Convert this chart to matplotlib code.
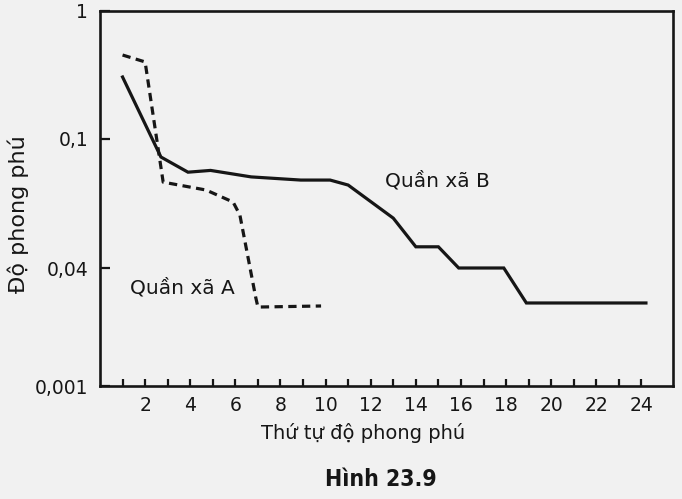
import numpy as np
import matplotlib
matplotlib.use("Agg")
import matplotlib.pyplot as plt
from matplotlib.ticker import FixedLocator, FixedFormatter, NullLocator

# ---- data ----
rank_b = [1.0, 2.7, 3.9, 4.9, 6.7, 8.9, 10.2, 11.0, 13.0, 14.0, 15.0, 15.9, 17.9, 18.9, 24.2]
abund_b = [0.305, 0.088, 0.079, 0.080, 0.0764, 0.0747, 0.0747, 0.0721, 0.057, 0.0465, 0.0465,
           0.040, 0.040, 0.0134, 0.0134]

rank_a = [1.0, 2.0, 2.8, 4.7, 5.9, 6.2, 6.9, 7.0, 9.8]
abund_a = [0.453, 0.40, 0.0736, 0.0696, 0.0639, 0.0583, 0.0161, 0.0118, 0.0122]

y_tick_values = [0.001, 0.04, 0.1, 1.0]
y_tick_labels = ["0,001", "0,04", "0,1", "1"]
x_major = list(range(2, 25, 2))
x_minor = list(range(1, 25, 2))
x_tick_labels = [str(v) for v in x_major]

# ---- non-uniform y scale (ticks roughly evenly spaced in the drawing) ----
_tick_log = np.log10(y_tick_values)
_tick_pos = np.array([0.0, 118.0, 247.0, 375.0])


def _fwd(v):
    v = np.clip(np.asarray(v, dtype=float), 1e-12, None)
    return np.interp(np.log10(v), _tick_log, _tick_pos)


def _inv(p):
    return 10 ** np.interp(np.asarray(p, dtype=float), _tick_pos, _tick_log)


ink = "#161616"
bg = "#f1f1f1"

fig = plt.figure(figsize=(6.82, 4.99), dpi=100, facecolor=bg)
ax = fig.add_axes([100 / 682, (499 - 386) / 499, (673 - 100) / 682, (386 - 11) / 499])
ax.set_facecolor(bg)

ax.set_yscale("function", functions=(_fwd, _inv))
ax.set_ylim(0.001, 1.0)
ax.set_xlim(0, 25.4)

ax.plot(rank_b, abund_b, color=ink, lw=2.3, solid_joinstyle="miter")
ax.plot(rank_a, abund_a, color=ink, lw=2.3, linestyle=(0, (2.6, 1.7)))

ax.yaxis.set_major_locator(FixedLocator(y_tick_values))
ax.yaxis.set_major_formatter(FixedFormatter(y_tick_labels))
ax.yaxis.set_minor_locator(NullLocator())
ax.xaxis.set_major_locator(FixedLocator(x_major))
ax.xaxis.set_major_formatter(FixedFormatter(x_tick_labels))
ax.xaxis.set_minor_locator(FixedLocator(x_minor))

ax.tick_params(axis="y", which="major", direction="in", length=7.5, width=1.6,
               labelsize=13.5, pad=8.5, colors=ink)
ax.tick_params(axis="x", which="both", direction="in", length=5, width=1.6,
               labelsize=13.5, pad=7, colors=ink)
for s in ax.spines.values():
    s.set_linewidth(1.9)
    s.set_color(ink)

ax.text(14.94, 0.0742, "Quần xã B", fontsize=14.5, color=ink, ha="center", va="center")
ax.text(3.65, 0.0214, "Quần xã A", fontsize=14.5, color=ink, ha="center", va="center")

fig.text(363 / 682, 1 - 433 / 499, "Thứ tự độ phong phú", fontsize=14, color=ink,
         ha="center", va="center")
fig.text(18 / 682, 1 - 214 / 499, "Độ phong phú", fontsize=16, color=ink,
         ha="center", va="center", rotation=90)
fig.text(381 / 682, 1 - 479 / 499, "Hình 23.9", fontsize=16.5, fontweight="bold",
         fontstretch="condensed", color=ink, ha="center", va="center")

fig.savefig("out.png", dpi=100, facecolor=bg)
